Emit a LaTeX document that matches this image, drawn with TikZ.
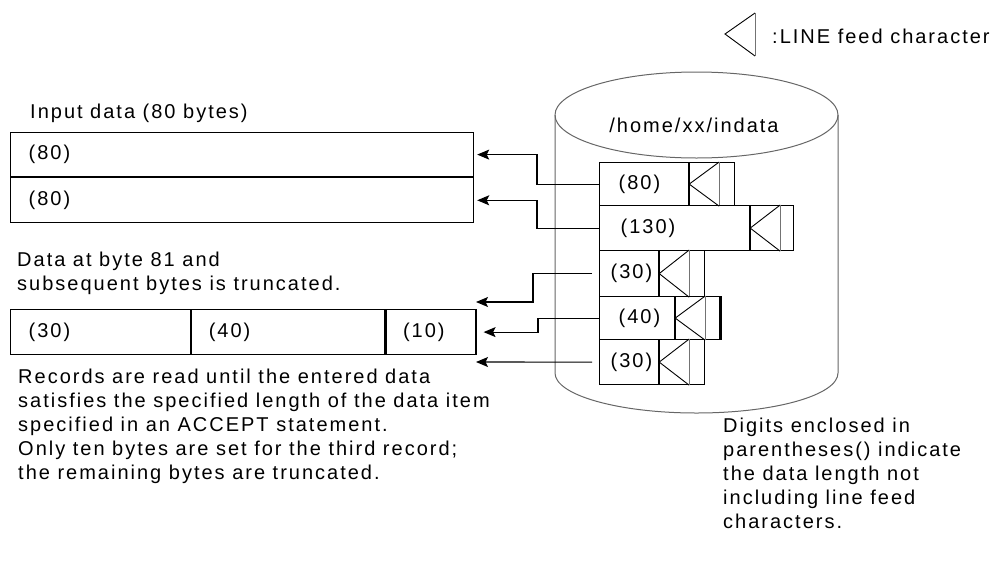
\documentclass[tikz,border=0pt]{standalone}
\usepackage{fontspec}
\setmainfont[LetterSpace=10]{Liberation Sans}
\usetikzlibrary{arrows.meta,positioning,calc}
\tikzset{
  >={Stealth[length=12pt,width=10pt,inset=2.5pt]},
  txt/.style={font=\fontsize{20}{24}\selectfont,inner sep=0pt,align=left},
  cell/.style={draw,line width=1.2pt,inner ysep=0pt,anchor=north west,
    font=\fontsize{20}{24}\selectfont},
  lfcell/.style={draw,line width=1.2pt,inner sep=0pt,anchor=north west},
  lftri/.style={line width=0.9pt},
  lfbase/.style={line width=1pt,black!55},
  drum/.style={line width=1pt,black!60},
  feed/.style={->,line width=1.1pt,shorten >=3pt},
}

\begin{document}
\begin{tikzpicture}[x=1pt,y=-1pt]
  \useasboundingbox (0,0) rectangle (995,565);
  % legend
  \coordinate (lfa) at (725,34);
  \draw[lftri] (755,13) -- (lfa) -- (755,56);
  \draw[lfbase] (755,13) -- (755,56);
  \node[txt,anchor=west] (lflab) at (772,36) {:LINE feed character};
  % the file as a drum
  \draw[drum] (696.5,115) ellipse [x radius=141.5pt,y radius=43pt];
  \draw[drum] (555,115) -- (555,373)
    arc[start angle=180,end angle=360,x radius=141.5pt,y radius=40pt] -- (838,115);
  \node[txt] (disk) at (694,125) {/home/xx/indata};
  % records in the file
  \foreach \n/\t/\h/\dw/\ix/\lw/\lab in {1/162/43/89/19/45/{(80)},
      2/205/45/150/21/43/{(130)}, 3/250/46/59/11/45/{(30)},
      4/296/43/75/19/44/{(40)}, 5/339/45/59/11/45/{(30)}} {
    \pgfmathsetmacro\tw{\dw-2*\ix}
    \node[cell,minimum height=\h pt,inner xsep=\ix pt,text width=\tw pt]
      (r\n) at (599,\t) {\lab};
    \node[lfcell,minimum width=\lw pt,minimum height=\h pt] (f\n) at (r\n.north east) {};
    \draw[lftri] ([xshift=30pt]f\n.north west) -- (f\n.west) -- ([xshift=30pt]f\n.south west);
    \draw[lfbase] ([xshift=30pt]f\n.north west) -- ([xshift=30pt]f\n.south west);
  }
  \draw[line width=2.2pt] (f4.north east) -- (f4.south east);
  % input data item
  \node[txt,anchor=west] (intitle) at (30,113) {Input data (80 bytes)};
  \node[cell,minimum height=44pt,inner xsep=18pt,text width=427pt] (in1) at (10,132) {(80)};
  \node[cell,minimum height=45pt,inner xsep=18pt,text width=427pt] (in2) at (in1.south west) {(80)};
  \node[txt,anchor=north west] (trunc) at (17,252)
    {Data at byte 81 and\\subsequent bytes is truncated.};
  \node[cell,minimum height=45pt,inner xsep=18pt,text width=144pt] (out1) at (10,309) {(30)};
  \node[cell,minimum height=45pt,inner xsep=17pt,text width=159pt] (out2) at (out1.north east) {(40)};
  \node[cell,minimum height=45pt,inner xsep=17pt,text width=56pt] (out3) at (out2.north east) {(10)};
  \node[txt,anchor=north west] (readnote) at (18,369)
    {Records are read until the entered data\\satisfies the specified length of the data item\\
     specified in an ACCEPT statement.\\Only ten bytes are set for the third record;\\
     the remaining bytes are truncated.};
  \node[txt,anchor=north west] (lennote) at (723,418)
    {Digits enclosed in\\parentheses() indicate\\the data length not\\
     including line feed\\characters.};
  % reading
  \coordinate (e3) at (473,302);
  \coordinate (e5) at (473,362);
  \draw[feed] (r1.west) -- ++(-62,0) |- (in1.east);
  \draw[feed] (r2.west) -- ++(-62,0) |- (in2.east);
  \draw[feed] ([xshift=-7pt]r3.west) -- ++(-59,0) |- (e3);
  \draw[feed,shorten >=7pt] (r4.west) -- ++(-61,0) |- (out3.east);
  \draw[feed] ([xshift=-7pt]r5.west) -- (e5);
\end{tikzpicture}
\end{document}
